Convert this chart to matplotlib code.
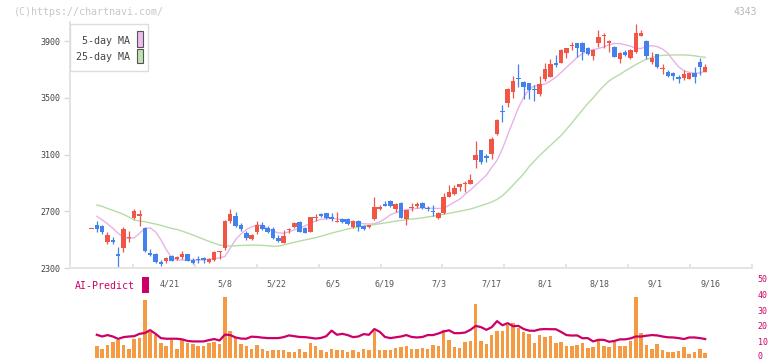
import numpy as np
import matplotlib
matplotlib.use('Agg')
import matplotlib.pyplot as plt
import matplotlib.transforms as mtransforms
from matplotlib.patches import Rectangle

# ---------------------------------------------------------------- data

opens = [2573, 2603, 2596, 2486, 2500, 2393, 2439, 2512, 2655, 2665,
         2584, 2399, 2397, 2344, 2351, 2385, 2361, 2378, 2399, 2356,
         2360, 2370, 2344, 2358, 2411, 2439, 2631, 2667, 2603, 2549,
         2502, 2556, 2603, 2584, 2573, 2514, 2478, 2565, 2591, 2627,
         2584, 2556, 2655, 2681, 2686, 2653, 2625, 2643, 2643, 2591,
         2634, 2598, 2591, 2643, 2719, 2752, 2773, 2716, 2761, 2643,
         2724, 2738, 2761, 2721, 2699, 2651, 2686, 2804, 2820, 2874,
         2891, 2893, 3062, 3132, 3083, 3104, 3245, 3405, 3466, 3544,
         3635, 3615, 3603, 3558, 3527, 3633, 3650, 3739, 3748, 3819,
         3864, 3885, 3889, 3854, 3798, 3885, 3937, 3885, 3861, 3774,
         3821, 3784, 3821, 3939, 3901, 3756, 3807, 3702, 3685, 3673,
         3650, 3643, 3633, 3673, 3751, 3685]

highs = [2578, 2632, 2600, 2552, 2521, 2450, 2587, 2563, 2714, 2709,
         2588, 2434, 2408, 2356, 2375, 2392, 2387, 2417, 2401, 2370,
         2385, 2378, 2373, 2420, 2420, 2636, 2716, 2697, 2620, 2561,
         2538, 2632, 2624, 2598, 2587, 2530, 2568, 2584, 2624, 2630,
         2592, 2660, 2681, 2690, 2690, 2686, 2697, 2650, 2650, 2640,
         2640, 2605, 2606, 2799, 2742, 2770, 2778, 2757, 2765, 2712,
         2760, 2763, 2765, 2735, 2744, 2697, 2827, 2886, 2886, 2895,
         2916, 2963, 3196, 3135, 3104, 3222, 3351, 3450, 3573, 3655,
         3739, 3620, 3608, 3591, 3655, 3744, 3772, 3803, 3842, 3855,
         3892, 3889, 3892, 3858, 3842, 3979, 3956, 3905, 3865, 3823,
         3840, 3845, 4021, 3979, 3905, 3821, 3812, 3737, 3700, 3680,
         3665, 3700, 3678, 3720, 3784, 3737]

lows = [2572, 2556, 2538, 2469, 2471, 2309, 2415, 2486, 2643, 2596,
        2415, 2385, 2333, 2316, 2337, 2347, 2354, 2366, 2347, 2326,
        2335, 2337, 2335, 2351, 2366, 2427, 2615, 2591, 2563, 2498,
        2495, 2538, 2566, 2549, 2505, 2485, 2475, 2545, 2585, 2552,
        2545, 2552, 2631, 2660, 2645, 2630, 2622, 2618, 2600, 2585,
        2563, 2570, 2585, 2640, 2710, 2735, 2733, 2697, 2650, 2603,
        2700, 2720, 2715, 2700, 2669, 2645, 2683, 2800, 2815, 2845,
        2838, 2890, 3008, 3034, 3045, 3069, 3238, 3332, 3438, 3501,
        3575, 3492, 3492, 3480, 3513, 3621, 3645, 3720, 3745, 3784,
        3838, 3791, 3767, 3800, 3767, 3861, 3854, 3821, 3787, 3748,
        3798, 3777, 3815, 3935, 3774, 3737, 3709, 3667, 3645, 3626,
        3603, 3627, 3630, 3603, 3660, 3680]

closes = [2577, 2573, 2556, 2533, 2486, 2388, 2575, 2516, 2704, 2681,
          2422, 2395, 2344, 2328, 2370, 2351, 2380, 2399, 2351, 2337,
          2357, 2358, 2363, 2413, 2414, 2631, 2681, 2598, 2577, 2509,
          2533, 2603, 2573, 2556, 2509, 2490, 2526, 2575, 2620, 2556,
          2549, 2657, 2659, 2667, 2651, 2649, 2629, 2622, 2608, 2634,
          2587, 2575, 2603, 2728, 2723, 2738, 2738, 2752, 2655, 2709,
          2728, 2752, 2721, 2717, 2695, 2690, 2804, 2835, 2862, 2893,
          2895, 2921, 3097, 3050, 3079, 3210, 3344, 3401, 3563, 3619,
          3631, 3579, 3556, 3554, 3598, 3702, 3739, 3735, 3838, 3850,
          3868, 3854, 3826, 3807, 3838, 3932, 3941, 3901, 3791, 3819,
          3805, 3838, 3956, 3956, 3798, 3784, 3720, 3706, 3657, 3654,
          3631, 3667, 3673, 3645, 3716, 3716]

ma5 = [np.nan, 2665, 2640, 2612, 2580, 2545, 2515, 2509, 2512, 2545,
       2578, 2583, 2555, 2500, 2430, 2375, 2356, 2356, 2356, 2356,
       2356, 2358, 2361, 2366, 2372, 2382, 2440, 2500, 2540, 2570,
       2590, 2603, 2600, 2578, 2560, 2548, 2546, 2555, 2568, 2582,
       2597, 2615, 2632, 2643, 2648, 2650, 2646, 2640, 2632, 2622,
       2617, 2612, 2610, 2612, 2625, 2648, 2675, 2690, 2700, 2712,
       2716, 2720, 2725, 2723, 2721, 2720, 2722, 2742, 2765, 2785,
       2820, 2850, 2885, 2920, 2955, 3010, 3060, 3140, 3240, 3335,
       3430, 3505, 3560, 3585, 3590, 3598, 3620, 3645, 3680, 3715,
       3750, 3785, 3812, 3830, 3840, 3848, 3860, 3875, 3884, 3883,
       3875, 3865, 3850, 3848, 3865, 3868, 3862, 3845, 3815, 3765,
       3720, 3692, 3680, 3674, 3676, 3688]

ma25 = [np.nan, 2744, 2735, 2720, 2707, 2693, 2678, 2660, 2638, 2632,
        2627, 2618, 2610, 2601, 2590, 2580, 2572, 2560, 2547, 2533,
        2518, 2503, 2488, 2475, 2462, 2456, 2455, 2457, 2459, 2460,
        2461, 2461, 2460, 2457, 2454, 2454, 2462, 2472, 2481, 2490,
        2498, 2506, 2514, 2524, 2535, 2546, 2556, 2565, 2575, 2583,
        2590, 2596, 2600, 2606, 2612, 2618, 2624, 2631, 2636, 2641,
        2645, 2649, 2654, 2660, 2665, 2672, 2679, 2686, 2693, 2700,
        2708, 2716, 2727, 2740, 2752, 2766, 2784, 2810, 2845, 2885,
        2925, 2965, 3015, 3055, 3095, 3130, 3165, 3200, 3235, 3278,
        3322, 3370, 3415, 3460, 3500, 3545, 3585, 3620, 3645, 3665,
        3690, 3712, 3735, 3755, 3772, 3785, 3795, 3800, 3802, 3803,
        3803, 3803, 3801, 3797, 3791, 3786]

volume = [0, 7.5, 5.6, 8.1, 9.8, 10.8, 8.1, 5.6, 11.5, 12.5,
          36.3, 16, 14.4, 9.2, 7.5, 11.3, 5.6, 10.8, 9.2, 8.8,
          7.5, 7.5, 9.2, 10, 8.5, 37.9, 16.5, 12.9, 8.5, 7.1,
          5.6, 8.1, 5.6, 4.2, 5, 4.6, 5, 3.75, 3.75, 5.6,
          3.75, 9.2, 7.1, 4.6, 3.75, 5.6, 4.6, 5, 3.75, 5,
          3.75, 5.6, 5, 17, 5, 5, 5, 5.8, 6.9, 7.5,
          5.6, 5.6, 6.3, 5.6, 8.1, 7.3, 17.5, 11.3, 6.9, 6.3,
          10, 10.6, 34, 10.6, 8.8, 14.2, 16.9, 16.9, 20.4, 21.7,
          18.5, 16.3, 14.8, 9.2, 14.2, 12.7, 13.5, 9.2, 9.8, 7.3,
          7.3, 7.9, 9.2, 6.3, 6.7, 10.6, 7.3, 6.7, 9.8, 7.5,
          7.3, 10.6, 38, 15.4, 7.9, 5.6, 8.5, 4.8, 3.75, 3.75,
          4.4, 6.7, 2.5, 3.5, 5.4, 2.9]

ai_predict = [np.nan, 14.4, 13.3, 14.2, 13.3, 11.8, 12.9, 13.3, 13.5, 15, 15.5,
              17.3, 15, 12.3, 11.9, 11.9, 11.9, 11.5, 10.5, 10.2, 10.2,
              10.2, 11, 11.7, 10.8, 14.5, 14.2, 12.7, 12, 11.9, 13.2,
              13, 12.6, 12.3, 12.3, 12.3, 12.9, 14, 13.5, 13, 12.9,
              12.5, 12, 12.4, 13.5, 17, 14.4, 15, 14.2, 12.9, 13.3,
              14.8, 14.4, 18, 16.3, 13, 12.3, 12.8, 13.3, 14.2, 13,
              12.7, 13, 14.2, 14.2, 15.2, 16.5, 17.2, 15.4, 15.4, 15.8,
              17.5, 20, 19.2, 17.5, 19.2, 23, 20.4, 21.7, 19.8, 20,
              18, 17, 16.9, 17.8, 18, 17.9, 17.9, 16.2, 14.2, 13.9,
              14, 12.2, 12.3, 10.2, 11.2, 11.2, 10, 10.5, 11.5, 11.5,
              12.1, 13.3, 13.3, 13.8, 14.2, 14, 13.3, 12.8, 12.7, 12.3,
              11.7, 12.7, 12.7, 12.3, 11.7]

date_labels = ['4/21', '5/8', '5/22', '6/5', '6/19', '7/3', '7/17', '8/1', '8/18', '9/1', '9/16']
label_slots = [14.7, 25, 34.7, 45.2, 54.9, 65.2, 74.9, 85, 95.2, 105.6, 116]
price_ticks = [2300, 2700, 3100, 3500, 3900]
ai_ticks = [0, 10, 20, 30, 40, 50]

# ---------------------------------------------------------------- styling

W, H = 772, 361
RED = '#f05545'
BLUE = '#4282ec'
PINK = '#e8b2ec'
GREEN = '#b6dca6'
MAGENTA = '#cc0066'
ORANGE = '#f39a43'
plt.rcParams['font.family'] = 'DejaVu Sans Mono'


def fx(x):
    return x / W


def fy(y):
    return 1 - y / H


x = np.arange(len(opens))
o = np.array(opens, float)
c = np.array(closes, float)
up = c >= o
colors = np.where(up, RED, BLUE)
body_lo = np.minimum(o, c)
body_h = np.maximum(np.abs(c - o), 8)

fig = plt.figure(figsize=(W / 100, H / 100), dpi=100)

# price panel
ax = fig.add_axes([fx(70), fy(268), fx(682), 245.7 / H])
ax.set_xlim(-(91.5 - 70) / 5.343, (752 - 91.5) / 5.343)
ax.set_ylim(2300, 2300 + 245.7 * 400 / 56.7)

ax.vlines(x, lows, highs, colors=colors, linewidth=0.9, zorder=2)
ax.bar(x, body_h, bottom=body_lo, width=0.85, color=colors, linewidth=0, zorder=3)
ax.plot(x, ma5, color=PINK, lw=1.0, zorder=1)
ax.plot(x, ma25, color=GREEN, lw=1.0, zorder=1)

for s in ['top', 'right']:
    ax.spines[s].set_visible(False)
for s in ['left', 'bottom']:
    ax.spines[s].set_color('#e2e2e2')
    ax.spines[s].set_linewidth(1.3)

ax.set_yticks(price_ticks)
ax.set_yticklabels([str(v) for v in price_ticks])
ax.tick_params(axis='y', length=4, width=1, color='#d8d8d8', labelsize=6, labelcolor='#444', pad=3)

ax.set_xticks(label_slots)
ax.set_xticklabels(date_labels)
ax.set_xticks(np.arange(7.77, 124, 11.6), minor=True)
ax.tick_params(axis='x', which='major', length=0, labelsize=6, labelcolor='#555', pad=8)
ax.tick_params(axis='x', which='minor', direction='in', length=3, width=1.3, color='#e2e2e2')

# AI-Predict panel
vax = fig.add_axes([fx(70), fy(357.6), fx(682), 79.3 / H])
vax.set_xlim(ax.get_xlim())
vax.set_ylim(0, 50)
vax.bar(x, volume, width=0.65, color=ORANGE, linewidth=0, zorder=1)
vax.plot(x, ai_predict, color=MAGENTA, lw=1.6, zorder=2)
for s in vax.spines.values():
    s.set_visible(False)
vax.set_xticks([])
vax.yaxis.tick_right()
vax.set_yticks(ai_ticks)
vax.set_yticklabels([str(v) for v in ai_ticks])
vax.tick_params(axis='y', length=0, labelsize=6, labelcolor=MAGENTA, pad=4)
vax.patch.set_alpha(0)
# keep the "0" label inside the picture
lbl0 = vax.get_yticklabels()[0]
lbl0.set_transform(lbl0.get_transform() + mtransforms.ScaledTranslation(0, 2 / 100, fig.dpi_scale_trans))

# legend box
fig.add_artist(Rectangle((fx(70), fy(71)), fx(78), 47 / H, transform=fig.transFigure,
                         facecolor='white', edgecolor='#dcdcdc', lw=1, zorder=5))
fig.text(fx(129.5), fy(41), '5-day MA', ha='right', va='center', size=7.2, color='#444', zorder=6)
fig.text(fx(129.5), fy(57), '25-day MA', ha='right', va='center', size=7.2, color='#444', zorder=6)
fig.add_artist(Rectangle((fx(136.5), fy(46.5)), fx(6), 15.5 / H, transform=fig.transFigure,
                         facecolor='#eebbee', edgecolor='#555', lw=0.8, zorder=6))
fig.add_artist(Rectangle((fx(136.5), fy(63)), fx(6), 14.5 / H, transform=fig.transFigure,
                         facecolor='#bfe2b2', edgecolor='#555', lw=0.8, zorder=6))

# header texts
fig.text(fx(14), fy(12), '(C)https://chartnavi.com/', ha='left', va='center', size=7.2, color='#c8c8c8')
fig.text(fx(757), fy(12), '4343', ha='right', va='center', size=7, color='#b8b8b8')

# AI-Predict label
fig.text(fx(75), fy(286), 'AI-Predict', ha='left', va='center', size=7.1, color=MAGENTA)
fig.add_artist(Rectangle((fx(142.3), fy(292.7)), fx(6.4), 16 / H, transform=fig.transFigure,
                         facecolor=MAGENTA, edgecolor='none', zorder=6))

fig.savefig('out.png', dpi=100)
